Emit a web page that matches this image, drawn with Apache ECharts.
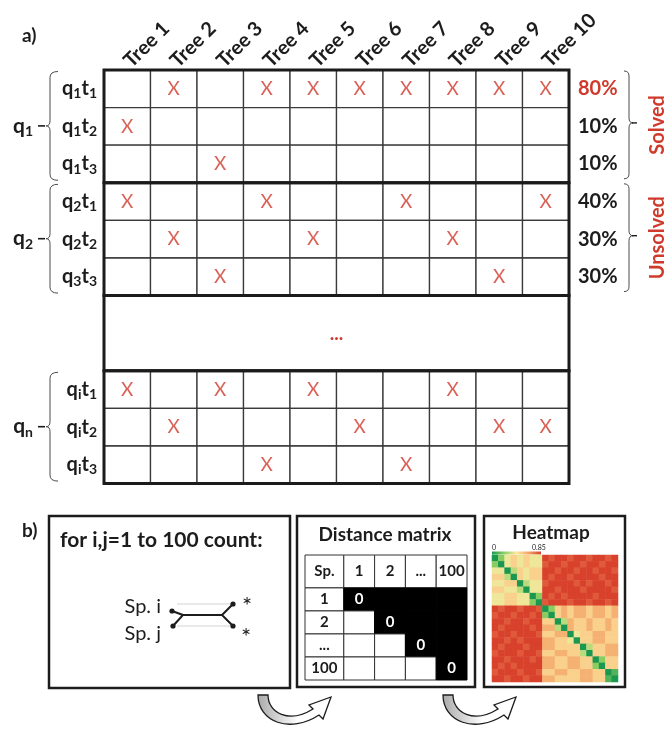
<!DOCTYPE html>
<html>
<head>
<meta charset="utf-8">
<script src="https://cdn.jsdelivr.net/npm/echarts@6/dist/echarts.min.js"></script>
<style>
  html, body { margin: 0; padding: 0; background: #fff; }
  #chart { width: 669px; height: 730px; }
</style>
</head>
<body>
<div id="chart"></div>
<script>
// ---- panel a: which trees solve each query/taxon row ----
const treeNames = ['Tree 1', 'Tree 2', 'Tree 3', 'Tree 4', 'Tree 5', 'Tree 6', 'Tree 7', 'Tree 8', 'Tree 9', 'Tree 10'];
const rowIds = ['q1t1', 'q1t2', 'q1t3', 'q2t1', 'q2t2', 'q3t3', 'gapA', 'gapB', 'qit1', 'qit2', 'qit3'];
const rowSubs = [['1', '1'], ['1', '2'], ['1', '3'], ['2', '1'], ['2', '2'], ['3', '3'], null, null, ['i', '1'], ['i', '2'], ['i', '3']];
const treeHits = [[2, 4, 5, 6, 7, 8, 9, 10], [1], [3], [1, 4, 7, 10], [2, 5, 8], [3, 9], [], [], [1, 3, 5, 8], [2, 6, 9, 10], [4, 7]];
const rowShares = ['80%', '10%', '10%', '40%', '30%', '30%', '', '', '', '', ''];
const queryGroups = [
  { name: '1', rows: [0, 2] },
  { name: '2', rows: [3, 5] },
  { name: null, rows: [6, 7], note: '...' },
  { name: 'n', rows: [8, 10] }
];
const statusGroups = [
  { label: 'Solved', rows: [0, 2] },
  { label: 'Unsolved', rows: [3, 5] }
];

// ---- panel b: distance matrix sketch ----
const matrixHeader = ['Sp.', '1', '2', '...', '100'];
const matrixRowNames = ['1', '2', '...', '100'];
const matrixDiagonal = '0';

// ---- panel b: heatmap of pairwise distances (20 x 20 blocks) ----
const heatLevels = { '0': 0, '1': 0.1, '2': 0.2, '3': 0.3, '4': 0.4, '5': 0.5, '6': 0.6, '7': 0.7, '8': 0.8, '9': 0.85 };
const heatRows = [
  '02454544989989989989',
  '20454544899899899899',
  '44035455998998998998',
  '55305455989989999899',
  '44550344899998989989',
  '55443044998999899998',
  '44554402989899998999',
  '44554420899989989989',
  '98998998025656656656',
  '89989989205656656656',
  '99899899550365565565',
  '98999989663065565565',
  '89989998556604556655',
  '99898999665540556655',
  '98999899665555035566',
  '89998998556655305566',
  '99899989665566550255',
  '98989999665566552055',
  '89998998556655665501',
  '99899899665555665510'
];
const heatRange = [0, 0.85];
const heatPalette = ['#1a9850', '#8fcf63', '#fbe9a0', '#f4a568', '#d8412c'];

// ---- style ----
const FONT = 'Lato, "Open Sans", sans-serif';
const INK = '#1c1c1c';
const RED = '#cf3a2c';

const linear = stops => ({ type: 'linear', x: 0, y: 0, x2: 1, y2: 0, global: false, colorStops: stops });

const cellData = [];
rowSubs.forEach((sub, r) => {
  if (!sub) return;
  treeNames.forEach((_, c) => cellData.push([c, r]));
});
const hitData = [];
treeHits.forEach((trees, r) => trees.forEach(t => hitData.push([t - 1, r])));

const matrixData = [];
for (let r = 0; r <= matrixRowNames.length; r++) {
  for (let c = 0; c < matrixHeader.length; c++) matrixData.push([c, r]);
}
const headSpanX = 1.26, headSpanY = 1.43;   // header column/row are a little larger

const heatData = [];
heatRows.forEach((row, y) => {
  for (let x = 0; x < row.length; x++) heatData.push([x, y, heatLevels[row[x]]]);
});
const heatIdx = heatRows.map((_, i) => String(i));

const braceStyle = { fill: 'none', stroke: '#4a4a4a', lineWidth: 1 };

// block extent in pixels for a run of rows spanning the whole table
function blockRect(api, rows) {
  const s = api.size([1, 1]);
  const a = api.coord([0, rows[0]]);
  const b = api.coord([treeNames.length - 1, rows[1]]);
  return { x0: a[0] - s[0] / 2, y0: a[1] - s[1] / 2, x1: b[0] + s[0] / 2, y1: b[1] + s[1] / 2 };
}

const chart = echarts.init(document.getElementById('chart'));

const option = {
  animation: false,
  backgroundColor: '#fff',
  textStyle: { fontFamily: FONT },
  grid: [
    { left: 104, top: 70, width: 465, height: 413.6 },
    { left: 305, top: 555, width: 162, height: 125 },
    { left: 492, top: 555, width: 126, height: 127 }
  ],
  xAxis: [
    {
      type: 'category', gridIndex: 0, data: treeNames, position: 'top',
      axisLine: { show: false }, axisTick: { show: false }, splitLine: { show: false },
      axisLabel: { interval: 0, rotate: -45, margin: 6, fontWeight: 'bold', fontSize: 20, color: INK, fontFamily: FONT }
    },
    { type: 'value', gridIndex: 1, min: 1 - headSpanX, max: matrixHeader.length, show: false },
    { type: 'category', gridIndex: 2, data: heatIdx, show: false }
  ],
  yAxis: [
    {
      type: 'category', gridIndex: 0, data: rowIds, inverse: true,
      axisLine: { show: false }, axisTick: { show: false }, splitLine: { show: false },
      axisLabel: {
        interval: 0, margin: 7,
        formatter: (v, i) => rowSubs[i] ? `{b|q}{s|${rowSubs[i][0]}}{b|t}{s|${rowSubs[i][1]}}` : '',
        rich: {
          b: { fontSize: 20, fontWeight: 'bold', color: INK, fontFamily: FONT, lineHeight: 24 },
          s: { fontSize: 14, fontWeight: 'bold', color: INK, fontFamily: FONT, lineHeight: 24, verticalAlign: 'bottom' }
        }
      }
    },
    {
      type: 'category', gridIndex: 0, data: rowIds, inverse: true, position: 'right',
      axisLine: { show: false }, axisTick: { show: false }, splitLine: { show: false },
      axisLabel: {
        interval: 0, margin: 9,
        formatter: (v, i) => rowShares[i] ? (i === 0 ? `{r|${rowShares[i]}}` : `{k|${rowShares[i]}}`) : '',
        rich: {
          r: { fontSize: 20, fontWeight: 'bold', color: RED, fontFamily: FONT },
          k: { fontSize: 20, fontWeight: 'bold', color: INK, fontFamily: FONT }
        }
      }
    },
    { type: 'value', gridIndex: 1, min: 1 - headSpanY, max: matrixRowNames.length + 1, inverse: true, show: false },
    { type: 'category', gridIndex: 2, data: heatIdx, inverse: true, show: false }
  ],
  visualMap: {
    type: 'continuous', show: false, seriesIndex: 4, dimension: 2,
    min: heatRange[0], max: heatRange[1],
    inRange: { color: heatPalette }
  },
  series: [
    // 0: table cells
    {
      type: 'custom', xAxisIndex: 0, yAxisIndex: 0, data: cellData, silent: true, z: 1,
      renderItem: (params, api) => {
        const p = api.coord([api.value(0), api.value(1)]);
        const s = api.size([1, 1]);
        return {
          type: 'rect',
          shape: { x: p[0] - s[0] / 2, y: p[1] - s[1] / 2, width: s[0], height: s[1] },
          style: { fill: '#fff', stroke: '#3a3a3a', lineWidth: 1.3 }
        };
      }
    },
    // 1: thick frames around each query block, with the left braces
    {
      type: 'custom', xAxisIndex: 0, yAxisIndex: 0, silent: true, z: 3,
      data: queryGroups.map(g => [0, g.rows[0]]),
      renderItem: (params, api) => {
        const g = queryGroups[params.dataIndex];
        const { x0, y0, x1, y1 } = blockRect(api, g.rows);
        const children = [{
          type: 'rect',
          shape: { x: x0, y: y0, width: x1 - x0, height: y1 - y0 },
          style: { fill: 'none', stroke: '#1b1b1b', lineWidth: 3 }
        }];
        if (g.note) {
          children.push({
            type: 'text',
            style: {
              text: g.note, x: (x0 + x1) / 2, y: (y0 + y1) / 2 + 1,
              align: 'center', verticalAlign: 'middle',
              fill: RED, fontSize: 19, fontWeight: 'bold', fontFamily: FONT
            }
          });
        }
        if (g.name) {
          const ya = y0 + 1.5, yb = y1 - 2.5, ym = (ya + yb) / 2;
          const xv = x0 - 54;
          children.push({
            type: 'path',
            shape: { pathData: `M${xv + 8},${ya} Q${xv},${ya} ${xv},${ya + 6} L${xv},${ym - 5} Q${xv},${ym} ${xv - 4},${ym} Q${xv},${ym} ${xv},${ym + 5} L${xv},${yb - 6} Q${xv},${yb} ${xv + 8},${yb}` },
            style: braceStyle
          });
          children.push({
            type: 'line',
            shape: { x1: xv - 12, y1: ym, x2: xv - 5, y2: ym },
            style: { stroke: INK, lineWidth: 1.6 }
          });
          children.push({
            type: 'text',
            style: {
              text: `{b|q}{s|${g.name}}`, x: xv - 17, y: ym, align: 'right', verticalAlign: 'middle',
              rich: {
                b: { fontSize: 21, fontWeight: 'bold', fill: INK, fontFamily: FONT, lineHeight: 25 },
                s: { fontSize: 14, fontWeight: 'bold', fill: INK, fontFamily: FONT, lineHeight: 25, verticalAlign: 'bottom' }
              }
            }
          });
        }
        return { type: 'group', children };
      }
    },
    // 2: X marks
    {
      type: 'scatter', xAxisIndex: 0, yAxisIndex: 0, data: hitData, silent: true, z: 4,
      symbolSize: 1, itemStyle: { color: 'rgba(0,0,0,0)' },
      label: {
        show: true, position: 'inside', formatter: 'X',
        color: RED, fontSize: 19, fontFamily: FONT
      }
    },
    // 3: distance matrix table
    {
      type: 'custom', xAxisIndex: 1, yAxisIndex: 2, data: matrixData, silent: true, z: 2,
      renderItem: (params, api) => {
        const c = api.value(0), r = api.value(1);
        const xa = c === 0 ? 1 - headSpanX : c, xb = c + 1;
        const ya = r === 0 ? 1 - headSpanY : r, yb = r + 1;
        const p0 = api.coord([xa, ya]);
        const p1 = api.coord([xb, yb]);
        const dark = r >= 1 && c >= 1 && c >= r;
        let text = '';
        if (r === 0) text = matrixHeader[c];
        else if (c === 0) text = matrixRowNames[r - 1];
        else if (c === r) text = matrixDiagonal;
        return {
          type: 'group',
          children: [
            {
              type: 'rect',
              shape: { x: p0[0], y: p0[1], width: p1[0] - p0[0], height: p1[1] - p0[1] },
              style: { fill: dark ? '#000' : '#fff', stroke: dark ? '#000' : '#333', lineWidth: 1 }
            },
            {
              type: 'text',
              style: {
                text, x: (p0[0] + p1[0]) / 2, y: (p0[1] + p1[1]) / 2,
                align: 'center', verticalAlign: 'middle',
                fill: dark ? '#fff' : INK, fontSize: 15, fontWeight: 'bold', fontFamily: FONT
              }
            }
          ]
        };
      }
    },
    // 4: heatmap
    {
      type: 'heatmap', xAxisIndex: 2, yAxisIndex: 3, data: heatData, silent: true,
      itemStyle: { borderWidth: 0 }, progressive: 0
    },
    // 5: solved / unsolved braces on the right
    {
      type: 'custom', xAxisIndex: 0, yAxisIndex: 0, silent: true, z: 3,
      data: statusGroups.map(g => [0, g.rows[0]]),
      renderItem: (params, api) => {
        const g = statusGroups[params.dataIndex];
        const { y0, x1, y1 } = blockRect(api, g.rows);
        const ya = y0 + 1, yb = y1 - 4, ym = (ya + yb) / 2 - 2;
        const xv = x1 + 60;
        return {
          type: 'group',
          children: [
            {
              type: 'path',
              shape: { pathData: `M${xv - 5},${ya} Q${xv},${ya} ${xv},${ya + 5} L${xv},${ym - 5} Q${xv},${ym} ${xv + 4},${ym} Q${xv},${ym} ${xv},${ym + 5} L${xv},${yb - 5} Q${xv},${yb} ${xv - 5},${yb}` },
              style: braceStyle
            },
            {
              type: 'line',
              shape: { x1: xv + 3, y1: ym, x2: xv + 8, y2: ym },
              style: { stroke: INK, lineWidth: 1.4 }
            },
            {
              type: 'text', x: xv + 29, y: ym + 2, rotation: Math.PI / 2,
              style: { text: g.label, x: 0, y: 0, align: 'center', verticalAlign: 'middle', fill: RED, fontSize: 20, fontWeight: 'bold', fontFamily: FONT }
            }
          ]
        };
      }
    },
    // 6: curved arrows linking the three boxes
    {
      type: 'custom', coordinateSystem: 'none', silent: true, z: 5,
      data: [[0], [1]],
      renderItem: (params) => ({
        type: 'path', x: params.dataIndex * 185,
        shape: { pathData: 'M258,695 C258,722 290,734 319,715 L323,719 L331,697 L309,705 L313,709 C289,724 268,713 268,695 Z' },
        style: {
          fill: linear([{ offset: 0, color: '#a9a9a9' }, { offset: 0.55, color: '#ffffff' }, { offset: 1, color: '#ffffff' }]),
          stroke: INK, lineWidth: 1.3
        }
      })
    }
  ],
  graphic: []
};

const graphics = option.graphic;

// panel letters
graphics.push({ type: 'text', silent: true, style: { text: 'a)', x: 22, y: 36, verticalAlign: 'middle', fill: INK, fontSize: 19, fontWeight: 'bold', fontFamily: FONT } });
graphics.push({ type: 'text', silent: true, style: { text: 'b)', x: 22, y: 531, verticalAlign: 'middle', fill: INK, fontSize: 19, fontWeight: 'bold', fontFamily: FONT } });

// panel b frames
[[49, 516, 241, 172], [297, 516, 178, 171], [484, 516, 141, 171]].forEach(b => {
  graphics.push({ type: 'rect', silent: true, shape: { x: b[0], y: b[1], width: b[2], height: b[3] }, style: { fill: 'none', stroke: INK, lineWidth: 2.5 } });
});
graphics.push({ type: 'text', silent: true, style: { text: 'for i,j=1 to 100 count:', x: 60, y: 540, verticalAlign: 'middle', fill: INK, fontSize: 21, fontWeight: 'bold', fontFamily: FONT } });
graphics.push({ type: 'text', silent: true, style: { text: 'Distance matrix', x: 385, y: 535, align: 'center', verticalAlign: 'middle', fill: INK, fontSize: 19, fontWeight: 'bold', fontFamily: FONT } });
graphics.push({ type: 'text', silent: true, style: { text: 'Heatmap', x: 551, y: 533, align: 'center', verticalAlign: 'middle', fill: INK, fontSize: 19, fontWeight: 'bold', fontFamily: FONT } });

// species pair sketch
graphics.push({ type: 'text', silent: true, style: { text: 'Sp. i', x: 161, y: 607, align: 'right', verticalAlign: 'middle', fill: INK, fontSize: 20, fontFamily: FONT } });
graphics.push({ type: 'text', silent: true, style: { text: 'Sp. j', x: 161, y: 634, align: 'right', verticalAlign: 'middle', fill: INK, fontSize: 20, fontFamily: FONT } });
graphics.push({ type: 'text', silent: true, style: { text: '*', x: 247, y: 606, align: 'center', verticalAlign: 'middle', fill: INK, fontSize: 24, fontFamily: FONT } });
graphics.push({ type: 'text', silent: true, style: { text: '*', x: 246, y: 637, align: 'center', verticalAlign: 'middle', fill: INK, fontSize: 24, fontFamily: FONT } });
graphics.push({ type: 'polyline', silent: true, shape: { points: [[177, 604], [230, 604]] }, style: { stroke: '#c8c8c8', lineWidth: 0.8, fill: 'none' } });
graphics.push({ type: 'polyline', silent: true, shape: { points: [[177, 626], [230, 626]] }, style: { stroke: '#c8c8c8', lineWidth: 0.8, fill: 'none' } });
graphics.push({ type: 'polyline', silent: true, shape: { points: [[172, 611], [183, 615], [173, 626]] }, style: { stroke: INK, lineWidth: 2, fill: 'none' } });
graphics.push({ type: 'polyline', silent: true, shape: { points: [[183, 615], [222, 615]] }, style: { stroke: INK, lineWidth: 2, fill: 'none' } });
graphics.push({ type: 'polyline', silent: true, shape: { points: [[233, 604], [222, 615], [233, 626]] }, style: { stroke: INK, lineWidth: 2, fill: 'none' } });
[[172, 611], [173, 626], [233, 604], [233, 626]].forEach(p => {
  graphics.push({ type: 'circle', silent: true, shape: { cx: p[0], cy: p[1], r: 2.6 }, style: { fill: INK } });
});

// colour bar of the heatmap
graphics.push({
  type: 'rect', silent: true, shape: { x: 492, y: 551.5, width: 49, height: 3 },
  style: { fill: linear(heatPalette.map((c, i) => ({ offset: i / (heatPalette.length - 1), color: c }))) }
});
graphics.push({ type: 'text', silent: true, style: { text: String(heatRange[0]), x: 492, y: 547.5, verticalAlign: 'middle', fill: INK, fontSize: 7, fontFamily: FONT } });
graphics.push({ type: 'text', silent: true, style: { text: String(heatRange[1]), x: 532, y: 547.5, verticalAlign: 'middle', fill: INK, fontSize: 7, fontFamily: FONT } });

chart.setOption(option);
</script>
</body>
</html>
